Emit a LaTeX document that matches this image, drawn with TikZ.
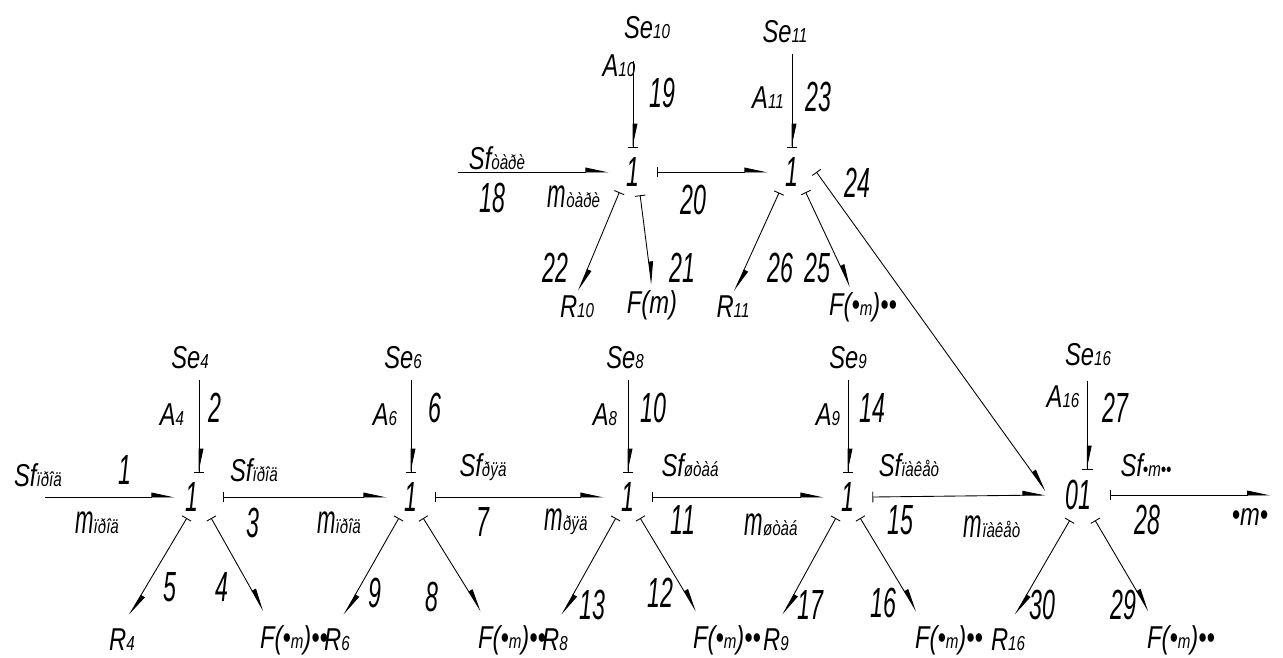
\documentclass[tikz,border=0pt]{standalone}
\usepackage{fontspec}
\usetikzlibrary{arrows.meta}
\newfontfamily\lblfont{Liberation Sans}[FakeStretch=0.75]
\newfontfamily\numfont{Liberation Sans}[FakeStretch=0.55]
\newcommand\sub[1]{{\fontsize{11.5}{12}\selectfont #1}}
\newcommand\mm[1]{{\numfont\fontsize{23}{23}\selectfont m}\sub{#1}}
\tikzset{
  hp/.tip={Stealth[left,length=12pt,width=5pt,inset=0pt]},
  cb/.tip={Bar[width=6pt]},
  lbl/.style={font=\lblfont\itshape\fontsize{18}{20}\selectfont, inner sep=1pt},
  num/.style={font=\numfont\itshape\fontsize{24}{24}\selectfont, inner sep=1pt},
  jun/.style={num, circle, minimum size=0.96cm, inner sep=0pt},
  bond/.style={line width=0.5pt, -{hp[]}},
  sbond/.style={line width=0.5pt, {cb[]}-{hp[]}},
  ebond/.style={line width=0.5pt, -{hp[]cb[]}},
}
\begin{document}
\begin{tikzpicture}[x=0.02cm, y=-0.02cm]
\useasboundingbox (0,0) rectangle (1283,657);

% Junctions
\node[jun] (ja) at (633,172) {1};
\node[jun] (jb) at (792,172) {1};
\node[jun] (j1) at (199,497) {1\kern8pt};
\node[jun] (j2) at (411,497) {1};
\node[jun] (j3) at (628,497) {1};
\node[jun] (j4) at (848,497) {1};
\node[num, minimum width=1.28cm, minimum height=1cm, inner sep=0pt] (j5) at (1078,495) {01};

% Upper sources and loads
\node[lbl] (se10) at (647,28) {Se\sub{10}};
\node[lbl] (se11) at (785,32) {Se\sub{11}};
\node[lbl] (a10) at (619,66) {A\sub{10}};
\node[lbl] (a11) at (768,98) {A\sub{11}};
\node[lbl] (sfa) at (497,158) {Sf\sub{òàðè}};
\node[lbl] (ma) at (574,197) {\mm{òàðè}};
\node[lbl] (r10) at (577,307) {R\sub{10}};
\node[lbl] (f10) at (652,305) {F(m)};
\node[lbl] (r11) at (733,307) {R\sub{11}};
\node[lbl, anchor=west] (f11) at (827,307) {F(•\sub{m})••};
\coordinate (s18) at (458,172);

% Lower sources and loads
\node[lbl] (sf1) at (38,475) {Sf\sub{ïðîä}};
\node[lbl] (m1) at (97,523) {\mm{ïðîä}};
\node[lbl] (se4) at (190,358) {Se\sub{4}};
\node[lbl] (a4) at (172,415) {A\sub{4}};
\node[lbl] (sf3) at (254,470) {Sf\sub{ïðîä}};
\node[lbl] (m3) at (339,523) {\mm{ïðîä}};
\node[lbl] (se6) at (403,358) {Se\sub{6}};
\node[lbl] (a6) at (385,415) {A\sub{6}};
\node[lbl] (sf7) at (483,467) {Sf\sub{ðÿä}};
\node[lbl] (m7) at (566,522) {\mm{ðÿä}};
\node[lbl] (se8) at (625,358) {Se\sub{8}};
\node[lbl] (a8) at (605,415) {A\sub{8}};
\node[lbl] (sf11) at (690,465) {Sf\sub{øòàá}};
\node[lbl] (m11) at (771,525) {\mm{øòàá}};
\node[lbl] (se9) at (848,358) {Se\sub{9}};
\node[lbl] (a9) at (828,415) {A\sub{9}};
\node[lbl] (sf15) at (909,465) {Sf\sub{ïàêåò}};
\node[lbl] (m15) at (992,527) {\mm{ïàêåò}};
\node[lbl] (se16) at (1088,355) {Se\sub{16}};
\node[lbl] (a16) at (1063,397) {A\sub{16}};
\node[lbl] (sf28) at (1146,465) {Sf\sub{•m••}};
\node[lbl] (out28) at (1250,517) {•m•};
\coordinate (s1) at (45,497);

\node[lbl] (r4) at (122,640) {R\sub{4}};
\node[lbl, anchor=west] (f4) at (258,640) {F(•\sub{m})••};
\node[lbl] (r6) at (337,640) {R\sub{6}};
\node[lbl, anchor=west] (f8) at (476,640) {F(•\sub{m})••};
\node[lbl] (r8) at (555,640) {R\sub{8}};
\node[lbl, anchor=west] (f12) at (691,640) {F(•\sub{m})••};
\node[lbl] (r9) at (776,640) {R\sub{9}};
\node[lbl, anchor=west] (f16) at (913,640) {F(•\sub{m})••};
\node[lbl] (r16) at (1008,640) {R\sub{16}};
\node[lbl, anchor=west] (f29) at (1145,640) {F(•\sub{m})••};

% Bond numbers
\node[num] (n18) at (492,198) {18};
\node[num] (n19) at (662,93) {19};
\node[num] (n20) at (693,200) {20};
\node[num] (n21) at (682,268) {21};
\node[num] (n22) at (555,268) {22};
\node[num] (n23) at (818,97) {23};
\node[num] (n24) at (857,183) {24};
\node[num] (n25) at (817,268) {25};
\node[num] (n26) at (780,268) {26};
\node[num] (n1) at (125,470) {1};
\node[num] (n2) at (215,408) {2};
\node[num] (n3) at (253,523) {3};
\node[num] (n4) at (222,587) {4};
\node[num] (n5) at (170,587) {5};
\node[num] (n6) at (435,408) {6};
\node[num] (n7) at (483,522) {7};
\node[num] (n8) at (432,597) {8};
\node[num] (n9) at (375,593) {9};
\node[num] (n10) at (653,408) {10};
\node[num] (n11) at (683,520) {11};
\node[num] (n12) at (660,593) {12};
\node[num] (n13) at (592,605) {13};
\node[num] (n14) at (872,408) {14};
\node[num] (n15) at (900,520) {15};
\node[num] (n16) at (883,603) {16};
\node[num] (n17) at (810,605) {17};
\node[num] (n27) at (1115,408) {27};
\node[num] (n28) at (1147,520) {28};
\node[num] (n29) at (1123,605) {29};
\node[num] (n30) at (1042,605) {30};

% Upper bonds
\draw[ebond, shorten <=11pt] (ja |- se10.south) -- (ja.north);
\draw[ebond, shorten <=5pt] (jb |- se11.south) -- (jb.north);
\draw[bond] (s18) -- (ja.west);
\draw[sbond] (ja.east) -- (jb.west);
\draw[sbond, shorten >=2pt] (ja.236) -- (r10.north);
\draw[sbond, shorten >=2pt] (ja.287) -- (f10.north);
\draw[sbond, shorten >=2pt] (jb.238) -- (r11.north);
\draw[sbond, shorten >=2pt] (jb.304) -- ([xshift=14pt]f11.north west);
\draw[sbond] (jb.east) -- (j5.173);

% Lower bonds
\draw[bond] (s1) -- (j1.west);
\draw[sbond] (j1.east) -- (j2.west);
\draw[sbond] (j2.east) -- (j3.west);
\draw[sbond] (j3.east) -- (j4.west);
\draw[sbond] (j4.east) -- (j5.west);
\draw[sbond] (j5.east) -- (j5.east -| out28.east);
\draw[ebond, shorten <=5pt] (j1 |- se4.south) -- (j1.north);
\draw[ebond, shorten <=5pt] (j2 |- se6.south) -- (j2.north);
\draw[ebond, shorten <=5pt] (j3 |- se8.south) -- (j3.north);
\draw[ebond, shorten <=5pt] (j4 |- se9.south) -- (j4.north);
\draw[ebond, shorten <=7pt] (j5.70 |- se16.south) -- (j5.70);
\draw[sbond, shorten >=8pt] (j1.240) -- (r4.north);
\draw[sbond, shorten >=8pt] (j1.300) -- ([xshift=7pt]f4.north west);
\draw[sbond, shorten >=8pt] (j2.240) -- (r6.north);
\draw[sbond, shorten >=8pt] (j2.300) -- ([xshift=7pt]f8.north west);
\draw[sbond, shorten >=8pt] (j3.240) -- (r8.north);
\draw[sbond, shorten >=8pt] (j3.300) -- ([xshift=7pt]f12.north west);
\draw[sbond, shorten >=8pt] (j4.240) -- (r9.north);
\draw[sbond, shorten >=8pt] (j4.300) -- ([xshift=6pt]f16.north west);
\draw[sbond, shorten >=8pt] (j5.252) -- (r16.north);
\draw[sbond, shorten >=8pt] (j5.304) -- ([xshift=6pt]f29.north west);

\end{tikzpicture}
\end{document}
